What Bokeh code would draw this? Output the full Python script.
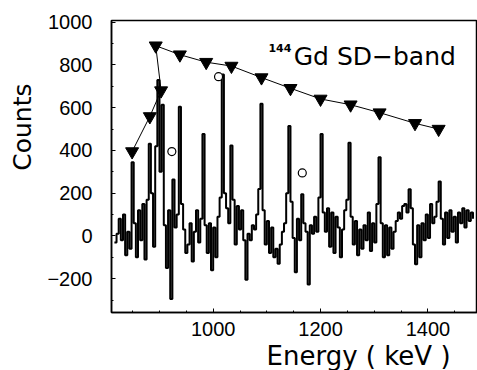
import numpy as np
from bokeh.plotting import figure
from bokeh.models import Range1d, FixedTicker, Label, Title
from bokeh.embed import file_html
from bokeh.resources import INLINE

# spectrum: 4 keV channels starting at 816 keV
bin_start = 816
bin_width = 4
counts = [
    -30, 10, 80, -20, 100, -90, 20, -60, 345, 60,
    -100, 120, -20, 150, -110, 170, 432, 200, -50, 420,
    730, 300, 614, 50, -150, 120, -295, 264, 40, 100,
    604, 150, 30, -80, -40, 60, -120, 20, 120, -30,
    80, 477, 50, -80, 60, -160, 40, -100, 90, 180,
    755, 200, 130, 60, 423, 170, -40, 140, 30, 120,
    -20, -205, 10, -20, 50, 30, 100, 220, 618, 120,
    -40, 70, -80, 40, -100, -60, -130, -40, 20, 60,
    200, 514, 160, -10, -170, 80, -20, 195, 60, 20,
    -227, 50, 10, 90, 20, 180, 477, 110, 20, 130,
    -50, 110, -80, 90, 40, -100, 30, 120, 170, 436,
    90, -40, 70, -90, 30, -60, 50, -20, 110, -70,
    60, -30, 150, 368, 60, -100, 50, -90, 40, -60,
    20, 70, 110, 80, 140, 150, 110, 218, 130, -40,
    -132, 50, -100, 60, -20, 100, -10, 150, 60, 90,
    160, 255, 80, -40, 110, -10, 120, 20, 90, -30,
    110, 60, 130, 40, 120, 70, 110, 80,
]
energy = [bin_start + bin_width * i for i in range(len(counts))]

# SD-band intensity markers (filled triangles, connected)
tri_e = [849, 882, 903, 893, 938, 987, 1034, 1090, 1144, 1200, 1256, 1310, 1376, 1420]
tri_c = [395, 559, 680, 890, 848, 813, 795, 741, 691, 641, 614, 577, 527, 500]

# open circles
circ_e = [923, 1010, 1166]
circ_c = [395, 745, 295]

x_ticks = [1000, 1200, 1400]
y_ticks = [-200, 0, 200, 400, 600, 800, 1000]

p = figure(width=477, height=370, output_backend="svg", toolbar_location=None,
           x_range=Range1d(810.6, 1492.4), y_range=Range1d(-358, 1008),
           min_border_left=111, min_border_right=0, min_border_top=20, min_border_bottom=56,
           background_fill_color="white", border_fill_color="white")
p.grid.visible = False
p.outline_line_color = "black"
p.outline_line_width = 1.5

p.step(energy, counts, mode="after", line_color="black", line_width=2)
p.line(tri_e, tri_c, line_color="black", line_width=1)
p.scatter(tri_e, tri_c, marker="inverted_triangle", size=13,
          fill_color="black", line_color="black")
p.scatter(circ_e, circ_c, marker="circle", size=8, fill_color="white",
          line_color="black", line_width=1.2)

for ax in (p.xaxis[0], p.yaxis[0]):
    ax.axis_line_width = 1.5
    ax.major_tick_in = 4
    ax.major_tick_out = 0
    ax.minor_tick_in = 2
    ax.minor_tick_out = 0
    ax.major_tick_line_width = 1
    ax.major_label_text_font = "Liberation Sans"
    ax.major_label_text_font_size = "20px"
    ax.major_label_text_color = "black"

p.xaxis[0].ticker = FixedTicker(ticks=x_ticks,
                                minor_ticks=[850, 900, 950, 1050, 1100, 1150, 1250, 1300, 1350, 1450])
p.yaxis[0].ticker = FixedTicker(ticks=y_ticks, minor_ticks=[-300, -100, 100, 300, 500, 700, 900])
p.xaxis[0].major_label_standoff = 9
p.yaxis[0].major_label_standoff = 19

p.add_layout(Title(text="Counts", align="right", offset=63, standoff=12, vertical_align="top",
                   text_font="DejaVu Sans", text_font_size="25px",
                   text_font_style="normal", text_color="black", text_line_height=1.0), "left")
p.add_layout(Title(text="Energy ( keV )", align="left", offset=155, standoff=0,
                   text_font="DejaVu Sans", text_font_size="26px",
                   text_font_style="normal", text_color="black", text_line_height=1.0), "below")

p.add_layout(Label(x=1150, y=841, text="Gd SD\u2212band",
                   text_align="left", text_baseline="alphabetic",
                   text_font="DejaVu Sans", text_font_size="25px", text_color="black"))
p.add_layout(Label(x=1103, y=878, text="144",
                   text_align="left", text_baseline="alphabetic",
                   text_font="DejaVu Sans", text_font_size="11px", text_font_style="bold",
                   text_color="black"))

open("out.html", "w").write(file_html(p, INLINE))
